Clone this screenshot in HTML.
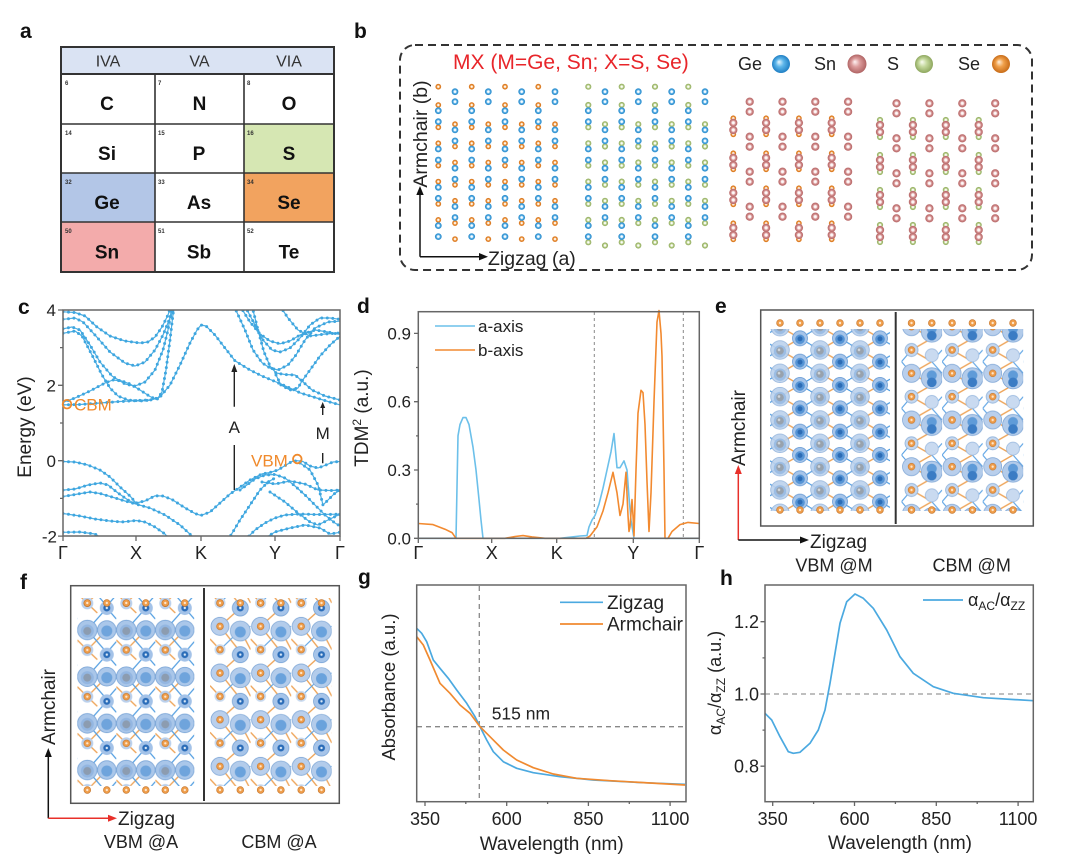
<!DOCTYPE html>
<html><head><meta charset="utf-8"><style>html,body{margin:0;padding:0;background:#fff}svg{display:block}</style></head><body>
<svg width="1075" height="863" viewBox="0 0 1075 863" xmlns="http://www.w3.org/2000/svg" font-family="'Liberation Sans', Arial, sans-serif">
<defs>
<radialGradient id="rGe"><stop offset="0" stop-color="#fff"/><stop offset=".3" stop-color="#eef8fe"/><stop offset=".55" stop-color="#4fa9e2"/><stop offset=".9" stop-color="#2f8dcc"/><stop offset="1" stop-color="#5aaee0"/></radialGradient>
<radialGradient id="rSe"><stop offset="0" stop-color="#fff"/><stop offset=".3" stop-color="#fdf0e0"/><stop offset=".55" stop-color="#ec8f35"/><stop offset=".9" stop-color="#d4761f"/><stop offset="1" stop-color="#eea060"/></radialGradient>
<radialGradient id="rS"><stop offset="0" stop-color="#fff"/><stop offset=".3" stop-color="#f6faee"/><stop offset=".55" stop-color="#b3ca84"/><stop offset=".9" stop-color="#95ae63"/><stop offset="1" stop-color="#b8cc94"/></radialGradient>
<radialGradient id="rSn"><stop offset="0" stop-color="#fff"/><stop offset=".3" stop-color="#fbefef"/><stop offset=".55" stop-color="#d48f8f"/><stop offset=".9" stop-color="#b86a6a"/><stop offset="1" stop-color="#d49a9a"/></radialGradient>
<radialGradient id="lGe" fx=".38" fy=".38"><stop offset="0" stop-color="#eaf8ff"/><stop offset=".45" stop-color="#5db6ea"/><stop offset="1" stop-color="#1f7fc4"/></radialGradient>
<radialGradient id="lSn" fx=".38" fy=".38"><stop offset="0" stop-color="#fff4f4"/><stop offset=".45" stop-color="#dc9c9c"/><stop offset="1" stop-color="#b06464"/></radialGradient>
<radialGradient id="lS" fx=".38" fy=".38"><stop offset="0" stop-color="#fafdf2"/><stop offset=".45" stop-color="#c4d89c"/><stop offset="1" stop-color="#8ea75e"/></radialGradient>
<radialGradient id="lSe" fx=".38" fy=".38"><stop offset="0" stop-color="#fff0dc"/><stop offset=".45" stop-color="#f0a04a"/><stop offset="1" stop-color="#c86c18"/></radialGradient>

<g id="s1A">
<circle cy="86.7" r="2.9" fill="url(#rSe)"/><circle cy="105" r="2.9" fill="url(#rSe)"/><circle cy="127.3" r="2.9" fill="url(#rSe)"/><circle cy="143.3" r="2.9" fill="url(#rSe)"/><circle cy="165.6" r="2.9" fill="url(#rSe)"/><circle cy="181.6" r="2.9" fill="url(#rSe)"/><circle cy="203.9" r="2.9" fill="url(#rSe)"/><circle cy="219.9" r="2.9" fill="url(#rSe)"/>
<circle cy="110.7" r="3.4" fill="url(#rGe)"/><circle cy="121.7" r="3.4" fill="url(#rGe)"/><circle cy="149" r="3.4" fill="url(#rGe)"/><circle cy="160" r="3.4" fill="url(#rGe)"/><circle cy="187.3" r="3.4" fill="url(#rGe)"/><circle cy="198.3" r="3.4" fill="url(#rGe)"/><circle cy="225.6" r="3.4" fill="url(#rGe)"/><circle cy="236.6" r="3.4" fill="url(#rGe)"/>
</g>
<g id="s1B">
<circle cy="124.2" r="2.9" fill="url(#rSe)"/><circle cy="146.5" r="2.9" fill="url(#rSe)"/><circle cy="162.5" r="2.9" fill="url(#rSe)"/><circle cy="184.8" r="2.9" fill="url(#rSe)"/><circle cy="200.8" r="2.9" fill="url(#rSe)"/><circle cy="223.1" r="2.9" fill="url(#rSe)"/><circle cy="239.1" r="2.9" fill="url(#rSe)"/>
<circle cy="91.7" r="3.4" fill="url(#rGe)"/><circle cy="101.7" r="3.4" fill="url(#rGe)"/><circle cy="129.9" r="3.4" fill="url(#rGe)"/><circle cy="140.9" r="3.4" fill="url(#rGe)"/><circle cy="168.2" r="3.4" fill="url(#rGe)"/><circle cy="179.2" r="3.4" fill="url(#rGe)"/><circle cy="206.5" r="3.4" fill="url(#rGe)"/><circle cy="217.5" r="3.4" fill="url(#rGe)"/>
</g>
<g id="s2A">
<circle cy="86.7" r="3.1" fill="url(#rS)"/><circle cy="105" r="3.1" fill="url(#rS)"/><circle cy="127.3" r="3.1" fill="url(#rS)"/><circle cy="143.3" r="3.1" fill="url(#rS)"/><circle cy="165.6" r="3.1" fill="url(#rS)"/><circle cy="181.6" r="3.1" fill="url(#rS)"/><circle cy="203.9" r="3.1" fill="url(#rS)"/><circle cy="219.9" r="3.1" fill="url(#rS)"/><circle cy="242.3" r="3.1" fill="url(#rS)"/>
<circle cy="110.7" r="3.4" fill="url(#rGe)"/><circle cy="121.7" r="3.4" fill="url(#rGe)"/><circle cy="149" r="3.4" fill="url(#rGe)"/><circle cy="160" r="3.4" fill="url(#rGe)"/><circle cy="187.3" r="3.4" fill="url(#rGe)"/><circle cy="198.3" r="3.4" fill="url(#rGe)"/><circle cy="225.6" r="3.4" fill="url(#rGe)"/><circle cy="236.6" r="3.4" fill="url(#rGe)"/>
</g>
<g id="s2B">
<circle cy="124.2" r="3.1" fill="url(#rS)"/><circle cy="146.5" r="3.1" fill="url(#rS)"/><circle cy="162.5" r="3.1" fill="url(#rS)"/><circle cy="184.8" r="3.1" fill="url(#rS)"/><circle cy="200.8" r="3.1" fill="url(#rS)"/><circle cy="223.1" r="3.1" fill="url(#rS)"/><circle cy="245.5" r="3.1" fill="url(#rS)"/>
<circle cy="91.7" r="3.4" fill="url(#rGe)"/><circle cy="101.7" r="3.4" fill="url(#rGe)"/><circle cy="129.9" r="3.4" fill="url(#rGe)"/><circle cy="140.9" r="3.4" fill="url(#rGe)"/><circle cy="168.2" r="3.4" fill="url(#rGe)"/><circle cy="179.2" r="3.4" fill="url(#rGe)"/><circle cy="206.5" r="3.4" fill="url(#rGe)"/><circle cy="217.5" r="3.4" fill="url(#rGe)"/>
</g>
<g id="s3C">
<circle cy="118.3" r="2.9" fill="url(#rSe)"/><circle cy="134.3" r="2.9" fill="url(#rSe)"/><circle cy="153.3" r="2.9" fill="url(#rSe)"/><circle cy="169.3" r="2.9" fill="url(#rSe)"/><circle cy="188.3" r="2.9" fill="url(#rSe)"/><circle cy="204.3" r="2.9" fill="url(#rSe)"/><circle cy="223.3" r="2.9" fill="url(#rSe)"/><circle cy="239.3" r="2.9" fill="url(#rSe)"/>
<circle cy="122.8" r="4.2" fill="url(#rSn)"/><circle cy="130" r="4.2" fill="url(#rSn)"/><circle cy="157.8" r="4.2" fill="url(#rSn)"/><circle cy="165" r="4.2" fill="url(#rSn)"/><circle cy="192.8" r="4.2" fill="url(#rSn)"/><circle cy="200" r="4.2" fill="url(#rSn)"/><circle cy="227.8" r="4.2" fill="url(#rSn)"/><circle cy="235" r="4.2" fill="url(#rSn)"/>
</g>
<g id="s3D">
<circle cy="101.7" r="4.2" fill="url(#rSn)"/><circle cy="111.7" r="4.2" fill="url(#rSn)"/><circle cy="136.7" r="4.2" fill="url(#rSn)"/><circle cy="146.7" r="4.2" fill="url(#rSn)"/><circle cy="171.7" r="4.2" fill="url(#rSn)"/><circle cy="181.7" r="4.2" fill="url(#rSn)"/><circle cy="206.7" r="4.2" fill="url(#rSn)"/><circle cy="216.7" r="4.2" fill="url(#rSn)"/>
</g>
<g id="s4C">
<circle cy="120" r="3.1" fill="url(#rS)"/><circle cy="137" r="3.1" fill="url(#rS)"/><circle cy="155" r="3.1" fill="url(#rS)"/><circle cy="172" r="3.1" fill="url(#rS)"/><circle cy="190" r="3.1" fill="url(#rS)"/><circle cy="207" r="3.1" fill="url(#rS)"/><circle cy="225" r="3.1" fill="url(#rS)"/><circle cy="242" r="3.1" fill="url(#rS)"/>
<circle cy="125" r="4.2" fill="url(#rSn)"/><circle cy="132" r="4.2" fill="url(#rSn)"/><circle cy="160" r="4.2" fill="url(#rSn)"/><circle cy="167" r="4.2" fill="url(#rSn)"/><circle cy="195" r="4.2" fill="url(#rSn)"/><circle cy="202" r="4.2" fill="url(#rSn)"/><circle cy="230" r="4.2" fill="url(#rSn)"/><circle cy="237" r="4.2" fill="url(#rSn)"/>
</g>
<g id="s4D">
<circle cy="103.3" r="4.2" fill="url(#rSn)"/><circle cy="113.3" r="4.2" fill="url(#rSn)"/><circle cy="138.3" r="4.2" fill="url(#rSn)"/><circle cy="148.3" r="4.2" fill="url(#rSn)"/><circle cy="173.3" r="4.2" fill="url(#rSn)"/><circle cy="183.3" r="4.2" fill="url(#rSn)"/><circle cy="208.3" r="4.2" fill="url(#rSn)"/><circle cy="218.3" r="4.2" fill="url(#rSn)"/>
</g>

<g id="oatom"><circle r="3.4" fill="#ef9d4a" stroke="#c4752c" stroke-width=".6"/><circle r="1.2" fill="#fde6cc"/></g>

<pattern id="pEL" patternUnits="userSpaceOnUse" x="770" y="338.33" width="40" height="23.33">
<path d="M10,11.67 L30,0 M10,11.67 L30,23.33" stroke="#eea55a" stroke-width="1.4" fill="none"/>
<path d="M0,5.83 L10,11.67 L0,17.5 M30,0 L40,5.83 M30,23.33 L40,17.5" stroke="#4d9be0" stroke-width="1.2" fill="none"/>
<circle cx="10" cy="11.67" r="9.3" fill="#bcd2ec" stroke="#88acd8" stroke-width=".8" opacity=".9"/><circle cx="10" cy="13" r="6.2" fill="#9cbde4"/><circle cx="10" cy="12.5" r="3.8" fill="#98a2ad"/><circle cx="9" cy="11.5" r="1.3" fill="#d0d6dc"/>
<circle cx="30" cy="0" r="7.5" fill="#a5c4e9" stroke="#6b9dd6" stroke-width=".8"/><circle cx="30" cy="1" r="4.8" fill="#5594d5"/><circle cx="30" cy=".5" r="2.5" fill="#2c6cb5"/>
<circle cx="30" cy="23.33" r="7.5" fill="#a5c4e9" stroke="#6b9dd6" stroke-width=".8"/><circle cx="30" cy="24.33" r="4.8" fill="#5594d5"/><circle cx="30" cy="23.83" r="2.5" fill="#2c6cb5"/>
</pattern>
<pattern id="pER" patternUnits="userSpaceOnUse" x="901.5" y="338.33" width="40.6" height="46.67">
<path d="M10,11.67 L30.3,23.33 L10,35 M10,11.67 L30.3,0 M10,35 L30.3,46.67" stroke="#eea55a" stroke-width="1.4" fill="none"/>
<path d="M0,23.33 L10,11.67 M0,23.33 L10,35 M30.3,23.33 L40.6,11.67 M30.3,23.33 L40.6,35" stroke="#5aa2e4" stroke-width="1.1" fill="none"/>
<circle cx="10" cy="11.67" r="6.5" fill="#c4d7ef" stroke="#8fb2da" stroke-width=".8"/><use href="#oatom" x="10" y="11.67"/>
<circle cx="10" cy="35" r="9" fill="#b9cfec" stroke="#86abd8" stroke-width=".8"/><use href="#oatom" x="10" y="35"/>
<circle cx="30.3" cy="17" r="6.5" fill="#c9daf0" stroke="#9dbbe0" stroke-width=".8"/>
<circle cx="30.3" cy="40" r="10.5" fill="#b2cbea" stroke="#7ea6d6" stroke-width=".8"/><circle cx="30.3" cy="37" r="5" fill="#5f9bd8"/><circle cx="30.3" cy="44" r="4.8" fill="#3b7cc4"/>
<circle cx="30.3" cy="-6.67" r="10.5" fill="#b2cbea" stroke="#7ea6d6" stroke-width=".8"/><circle cx="30.3" cy="-9.67" r="5" fill="#5f9bd8"/><circle cx="30.3" cy="-2.67" r="4.8" fill="#3b7cc4"/>
</pattern>
<pattern id="pFL" patternUnits="userSpaceOnUse" x="77.3" y="606" width="39" height="46.67">
<path d="M10,44 L29.5,24 M0,34 L10,44 M10,-2.67 L20,7" stroke="#eea55a" stroke-width="1.4" fill="none"/>
<path d="M10,24 L29.5,2 M10,24 L29.5,46.67 M29.5,2 L39,13 M29.5,46.67 L39,35.7" stroke="#4d9be0" stroke-width="1.2" fill="none"/>
<circle cx="10" cy="24" r="9.8" fill="#a9c6e9" stroke="#7aa5d7" stroke-width=".8"/><circle cx="10" cy="25" r="6.5" fill="#93b6e1"/><circle cx="10" cy="25" r="4" fill="#8c9cb0"/>
<circle cx="10" cy="44" r="6" fill="#bad0ec"/><use href="#oatom" x="10" y="44"/>
<circle cx="10" cy="-2.67" r="6" fill="#bad0ec"/><use href="#oatom" x="10" y="-2.67"/>
<circle cx="29.5" cy="24" r="9.3" fill="#aac7ea" stroke="#7aa5d7" stroke-width=".8"/><circle cx="29.5" cy="25" r="5.5" fill="#6fa4dc"/>
<circle cx="29.5" cy="2" r="7" fill="#a3c2e8"/><circle cx="29.5" cy="2" r="3.5" fill="#2a6cb8"/><circle cx="29.5" cy="2" r="1.2" fill="#dbe9f7"/>
<circle cx="29.5" cy="48.67" r="7" fill="#a3c2e8"/><circle cx="29.5" cy="48.67" r="3.5" fill="#2a6cb8"/><circle cx="29.5" cy="48.67" r="1.2" fill="#dbe9f7"/>
</pattern>
<pattern id="pFR" patternUnits="userSpaceOnUse" x="210" y="606" width="40.6" height="46.67">
<path d="M10,20.33 L30.3,2 M10,20.33 L30.3,46 M10,43.67 L0,33 M30.3,24 L40.6,43.67" stroke="#eea55a" stroke-width="1.4" fill="none"/>
<path d="M10,43.67 L30.3,24 L40.6,20.33" stroke="#5aa2e4" stroke-width="1.1" fill="none"/>
<circle cx="10" cy="20.33" r="9" fill="#b9cfec" stroke="#82a9d8" stroke-width=".8"/><use href="#oatom" x="10" y="20.33"/>
<circle cx="10" cy="43.67" r="5.5" fill="#c8daf0"/><use href="#oatom" x="10" y="43.67"/>
<circle cx="10" cy="-3" r="5.5" fill="#c8daf0"/><use href="#oatom" x="10" y="-3"/>
<circle cx="30.3" cy="25" r="10" fill="#b3cceb" stroke="#86acd8" stroke-width=".8"/><circle cx="30.3" cy="26" r="5.5" fill="#6aa2dc"/>
<circle cx="30.3" cy="2" r="8" fill="#a6c4e9" stroke="#7aa5d7" stroke-width=".8"/><circle cx="30.3" cy="2" r="3.5" fill="#2a6cb8"/><circle cx="30.3" cy="2" r="1.2" fill="#dbe9f7"/>
<circle cx="30.3" cy="48.67" r="8" fill="#a6c4e9" stroke="#7aa5d7" stroke-width=".8"/><circle cx="30.3" cy="48.67" r="3.5" fill="#2a6cb8"/><circle cx="30.3" cy="48.67" r="1.2" fill="#dbe9f7"/>
</pattern>

<clipPath id="clipC"><rect x="63" y="310" width="277" height="226"/></clipPath>
<g id="bands">
<path d="M63,404.9 L80,404.5 L100,403 L120,401.5 L140,400.4 L152,399.8 L160,397 L170,385 L180,365 L190,343 L197,330 L201,325 L206,326 L215,335 L225,348 L235,360.8 L250,370 L262,376 L275,381.5 L290,388 L300,392.8 L315,397.5 L328,401.5 L340,404.9"/>
<path d="M63,402.3 L75,398 L90,391 L105,383 L113,380 L122,381 L130,384 L140,390 L150,396.5 L157,399.6 L162,392 L166,370 L170,340 L174,306"/>
<path d="M63,311.8 L75,312.5 L85,316 L97,327 L110,336 L125,341 L140,343 L148,342 L155,337 L162,327 L168,315 L171,306"/>
<path d="M63,319.3 L75,318 L83,322 L95,335 L110,352 L125,363 L135,366 L145,362 L155,350 L163,335 L170,318 L175,306"/>
<path d="M63,328.8 L72,327 L80,330 L90,345 L100,362 L112,376 L125,384 L135,386.1 L145,382 L155,370 L163,350 L168,330 L172,306"/>
<path d="M63,333.3 L75,331 L82,336 L92,355 L102,375 L110,388 L118,396 L128,400 L140,401 L152,400"/>
<path d="M240,306 L250,322 L260,334 L270,341 L280,343.8 L290,341 L300,335 L315,330 L328,332 L340,334.4"/>
<path d="M245,306 L255,325 L263,340 L272,350 L280,352 L290,348 L300,338 L310,325 L320,318 L330,318 L340,319.3"/>
<path d="M234,306 L245,330 L253,350 L262,362.7 L270,368 L278,370 L288,365 L296,355 L305,340 L315,328 L328,322 L340,321.2"/>
<path d="M252,306 L258,330 L264,352 L270,366 L276,373 L285,374.5 L295,375 L302,381 L312,390 L325,396 L340,400"/>
<path d="M276,375 L281,385 L290,390 L298,388 L302,381 L310,370 L320,356 L330,345 L340,336.3"/>
<path d="M280,306 L288,318 L298,330 L310,336 L325,334 L340,333"/>
<path d="M63,461.5 L75,462 L88,465 L100,470 L110,477 L120,487 L130,496 L136,503 L145,501 L155,495.8 L163,496 L172,499.5 L185,507.8 L195,513.5 L201,515.4 L210,512 L220,503 L230,494 L240,487.1 L250,480 L262,473.9 L270,472.5 L278,470 L286,465 L292,461.5 L297,460.7 L303,461.5 L310,466 L318,468 L326,465 L333,462 L340,461.5"/>
<path d="M240,490 L255,479 L265,475 L275,474.5 L285,478 L295,486 L305,495 L315,505 L325,515 L335,523 L340,526"/>
<path d="M262,482 L275,484 L290,481 L305,484 L318,490 L330,490.5 L340,490.1"/>
<path d="M270,492 L285,502 L298,513 L310,522 L318,525 L328,520 L340,514.2"/>
<path d="M63,490.1 L75,489 L88,485 L100,483 L108,485 L118,493 L128,500 L136,504.1 L150,508 L165,515 L180,525 L192,536 L196,540"/>
<path d="M63,496.5 L78,494 L90,492 L100,493.5 L112,497 L125,501 L136,504.1"/>
<path d="M63,513.5 L80,516 L95,519 L110,521 L122,522 L136,520.5 L145,522 L155,527 L165,534 L170,540"/>
<path d="M63,532.3 L80,532 L95,534 L105,540"/>
<path d="M228,540 L240,520 L250,505 L260,490 L268,482 L275,478"/>
<path d="M245,540 L255,530 L265,523 L275,518 L285,515 L300,514 L315,514.5 L340,514.2"/>
<path d="M262,540 L275,532 L290,528 L305,525 L320,528 L330,534 L340,532.3"/>
<path d="M300,463 L310,470 L318,485 L323,505 L328,500 L334,494 L340,490.1"/>
</g>
</defs>

<!-- Panel labels -->
<g font-weight="bold" font-size="21" fill="#111">
<text x="20" y="38">a</text><text x="354" y="38">b</text><text x="18" y="314">c</text><text x="357" y="313">d</text>
<text x="715" y="313">e</text><text x="20" y="589">f</text><text x="358" y="584">g</text><text x="720" y="585">h</text>
</g>

<!-- Panel a -->
<rect x="61" y="47" width="273" height="27" fill="#dae3f3"/>
<rect x="244" y="124" width="90" height="49" fill="#d6e7b3"/>
<rect x="61" y="173" width="94" height="49" fill="#b3c6e7"/>
<rect x="244" y="173" width="90" height="49" fill="#f2a35f"/>
<rect x="61" y="222" width="94" height="50" fill="#f3abab"/>
<g stroke="#333" fill="none">
<rect x="61" y="47" width="273" height="225" stroke-width="2"/>
<path d="M61,74 H334" stroke-width="2"/>
<path d="M61,124 H334 M61,173 H334 M61,222 H334 M155,74 V272 M244,74 V272" stroke-width="1.6"/>
</g>
<g font-size="16" fill="#333" text-anchor="middle"><text x="108" y="66.5">IVA</text><text x="199.5" y="66.5">VA</text><text x="289" y="66.5">VIA</text></g>
<g font-size="19" font-weight="bold" fill="#111" text-anchor="middle">
<text x="107" y="110">C</text><text x="199.5" y="110">N</text><text x="289" y="110">O</text>
<text x="107" y="160">Si</text><text x="199" y="160">P</text><text x="289" y="160">S</text>
<text x="107" y="209">Ge</text><text x="199" y="209">As</text><text x="289" y="209">Se</text>
<text x="107" y="258.5">Sn</text><text x="199" y="258.5">Sb</text><text x="289" y="258.5">Te</text>
</g>
<g font-size="6" font-weight="bold" fill="#333">
<text x="65" y="85">6</text><text x="158" y="85">7</text><text x="247" y="85">8</text>
<text x="65" y="135">14</text><text x="158" y="135">15</text><text x="247" y="135">16</text>
<text x="65" y="184">32</text><text x="158" y="184">33</text><text x="247" y="184">34</text>
<text x="65" y="233">50</text><text x="158" y="233">51</text><text x="247" y="233">52</text>
</g>

<!-- Panel b -->
<rect x="400" y="45" width="632" height="225" rx="15" fill="none" stroke="#333" stroke-width="2" stroke-dasharray="8 5"/>
<text x="453" y="69" font-size="21" fill="#e8252a">MX (M=Ge, Sn; X=S, Se)</text>
<g font-size="18" fill="#222">
<text x="738" y="70">Ge</text><text x="814" y="70">Sn</text><text x="887" y="70">S</text><text x="958" y="70">Se</text>
</g>
<circle cx="781" cy="64" r="9" fill="url(#lGe)"/><circle cx="857" cy="64" r="9.5" fill="url(#lSn)"/><circle cx="924" cy="64" r="9" fill="url(#lS)"/><circle cx="1001" cy="64" r="9" fill="url(#lSe)"/>
<use href="#s1A" x="438.3"/><use href="#s1A" x="471.7"/><use href="#s1A" x="505"/><use href="#s1A" x="538.3"/>
<use href="#s1B" x="455"/><use href="#s1B" x="488.3"/><use href="#s1B" x="521.7"/><use href="#s1B" x="555"/>
<use href="#s2A" x="588.3"/><use href="#s2A" x="621.7"/><use href="#s2A" x="655"/><use href="#s2A" x="688.3"/>
<use href="#s2B" x="605"/><use href="#s2B" x="638.3"/><use href="#s2B" x="671.7"/><use href="#s2B" x="705"/>
<use href="#s3C" x="733.3"/><use href="#s3C" x="766.1"/><use href="#s3C" x="798.9"/><use href="#s3C" x="831.7"/>
<use href="#s3D" x="749.7"/><use href="#s3D" x="782.5"/><use href="#s3D" x="815.3"/><use href="#s3D" x="848.1"/>
<use href="#s4C" x="880"/><use href="#s4C" x="912.9"/><use href="#s4C" x="945.8"/><use href="#s4C" x="978.7"/>
<use href="#s4D" x="896.5"/><use href="#s4D" x="929.4"/><use href="#s4D" x="962.3"/><use href="#s4D" x="995.2"/>
<path d="M420,256.7 V194 M420,256.7 H480" stroke="#111" stroke-width="1.5" fill="none"/>
<path d="M420,186 L416.3,195 L423.7,195 Z M488,256.7 L479,253 L479,260.4 Z" fill="#111"/>
<text x="488" y="265" font-size="19.5" fill="#222">Zigzag (a)</text>
<text transform="translate(427,134) rotate(-90)" text-anchor="middle" font-size="19.5" fill="#222">Armchair (b)</text>

<!-- Panel c -->
<g clip-path="url(#clipC)">
<use href="#bands" fill="none" stroke="#4aaee3" stroke-width="1.2" stroke-linejoin="round"/>
<use href="#bands" fill="none" stroke="#3fa6df" stroke-width="3" stroke-dasharray="0 5.5" stroke-linecap="round"/>
</g>
<rect x="63" y="310" width="277" height="226" fill="none" stroke="#666" stroke-width="1.5"/>
<path d="M58,310 H63 M58,385.3 H63 M58,460.7 H63 M58,536.1 H63 M60,347.6 H63 M60,423 H63 M60,498.4 H63 M63,536 V541 M136,536 V541 M201,536 V541 M275,536 V541 M340,536 V541" stroke="#666" stroke-width="1.3"/>
<g font-size="17" fill="#222" text-anchor="end"><text x="56" y="316">4</text><text x="56" y="391.5">2</text><text x="56" y="466.9">0</text><text x="57" y="542.3">-2</text></g>
<g font-size="18" fill="#222" text-anchor="middle"><text x="63" y="559">Γ</text><text x="136" y="559">X</text><text x="201" y="559">K</text><text x="275" y="559">Y</text><text x="340" y="559">Γ</text></g>
<text transform="translate(31,427) rotate(-90)" text-anchor="middle" font-size="19" fill="#222">Energy (eV)</text>
<path d="M234.3,490 V445 M234.3,406.7 V370 M322.7,463.3 V453 M322.7,415 V407" stroke="#222" stroke-width="1.4" fill="none"/>
<path d="M234.3,364 L231.3,372 L237.3,372 Z M322.7,402 L320.2,408 L325.2,408 Z" fill="#222"/>
<text x="234.3" y="433" font-size="17" fill="#222" text-anchor="middle">A</text>
<text x="322.7" y="439" font-size="17" fill="#222" text-anchor="middle">M</text>
<circle cx="67" cy="404.2" r="4.3" fill="none" stroke="#f08a2c" stroke-width="1.8"/>
<text x="74" y="410.5" font-size="17" fill="#f08a2c">CBM</text>
<circle cx="297.3" cy="459" r="4.3" fill="none" stroke="#f08a2c" stroke-width="1.8"/>
<text x="251" y="466.7" font-size="17" fill="#f08a2c">VBM</text>

<!-- Panel d -->
<path d="M594.3,312 V538 M683.3,312 V538" stroke="#888" stroke-width="1" stroke-dasharray="3 3"/>
<path d="M418.3,538.3 L456,538.3 L458,435.8 L460,424.5 L463,417.6 L466,417.6 L469,424.5 L473,447.2 L476,470 L479,499.6 L481,520.1 L483,538.3 L560,538.3 L570,537.2 L580,536 L587,535.6 L589,526.9 L592,520.1 L595,515.5 L599,504.1 L603,488.2 L607,470 L611,451.8 L614,433.6 L617,467.7 L620,467.7 L624,460.9 L627,470 L629,497.3 L631,520.1 L634,538.3 L699.3,538.3" fill="none" stroke="#6cc0ea" stroke-width="1.6" stroke-linejoin="round"/>
<path d="M418.3,523.5 L433,524.6 L445,529.2 L452,532.6 L456,538.3 L505,538.3 L515,536.5 L523,535.6 L532,536.9 L545,538.3 L586,538.3 L590,536 L597,526.9 L603,511 L608,492.8 L613,472.3 L617,492.8 L620,515.5 L623,504.1 L626,472.3 L628,515.5 L629,531.5 L630,526.9 L632,499.6 L633,515.5 L634,536 L636,470 L638,413.1 L641,390.3 L643,392.6 L645,424.5 L647,481.4 L649,531.5 L651,492.8 L654,401.7 L657,322 L659,310.6 L661,333.4 L662,356.1 L664,470 L665,538.3 L668,538.3 L672,531.5 L680,524.6 L688,522.4 L699.3,523.5" fill="none" stroke="#f28a30" stroke-width="1.6" stroke-linejoin="round"/>
<rect x="418.3" y="311.7" width="281" height="226.6" fill="none" stroke="#666" stroke-width="1.5"/>
<path d="M414,538.3 H418.3 M414,470 H418.3 M414,401.7 H418.3 M414,333.4 H418.3 M416,504.1 H418.3 M416,435.9 H418.3 M416,367.5 H418.3 M418.3,538 V543 M491.7,538 V543 M556.7,538 V543 M633.3,538 V543 M699.3,538 V543" stroke="#666" stroke-width="1.3"/>
<g font-size="17" fill="#222" text-anchor="end"><text x="411" y="544.3">0.0</text><text x="411" y="476">0.3</text><text x="411" y="407.7">0.6</text><text x="411" y="339.4">0.9</text></g>
<g font-size="18" fill="#222" text-anchor="middle"><text x="418.3" y="559">Γ</text><text x="491.7" y="559">X</text><text x="556.7" y="559">K</text><text x="633.3" y="559">Y</text><text x="699.3" y="559">Γ</text></g>
<text transform="translate(368,418) rotate(-90)" text-anchor="middle" font-size="19" fill="#222">TDM<tspan font-size="12" dy="-7">2</tspan><tspan dy="7"> (a.u.)</tspan></text>
<path d="M435,326 H475" stroke="#6cc0ea" stroke-width="1.6"/><path d="M435,350 H475" stroke="#f28a30" stroke-width="1.6"/>
<text x="478" y="332" font-size="17" fill="#222">a-axis</text><text x="478" y="356" font-size="17" fill="#222">b-axis</text>

<!-- Panel e -->
<rect x="770" y="329" width="120" height="182" fill="url(#pEL)"/>
<rect x="901.5" y="329" width="121.8" height="182" fill="url(#pER)"/>
<g>
<use href="#oatom" x="780" y="323"/><use href="#oatom" x="800" y="323"/><use href="#oatom" x="820" y="323"/><use href="#oatom" x="840" y="323"/><use href="#oatom" x="860" y="323"/><use href="#oatom" x="880" y="323"/>
<use href="#oatom" x="780" y="510"/><use href="#oatom" x="800" y="510"/><use href="#oatom" x="820" y="510"/><use href="#oatom" x="840" y="510"/><use href="#oatom" x="860" y="510"/><use href="#oatom" x="880" y="510"/>
<use href="#oatom" x="911.5" y="323"/><use href="#oatom" x="931.8" y="323"/><use href="#oatom" x="952.1" y="323"/><use href="#oatom" x="972.4" y="323"/><use href="#oatom" x="992.7" y="323"/><use href="#oatom" x="1013" y="323"/>
<use href="#oatom" x="911.5" y="510"/><use href="#oatom" x="931.8" y="510"/><use href="#oatom" x="952.1" y="510"/><use href="#oatom" x="972.4" y="510"/><use href="#oatom" x="992.7" y="510"/><use href="#oatom" x="1013" y="510"/>
</g>
<rect x="760.7" y="310" width="272.6" height="216" fill="none" stroke="#555" stroke-width="1.5"/>
<path d="M895.7,312 V524" stroke="#333" stroke-width="2"/>
<path d="M738.3,540 V472" stroke="#e8302a" stroke-width="1.5"/><path d="M738.3,465 L734.8,474 L741.8,474 Z" fill="#e8302a"/>
<path d="M738.3,540 H802" stroke="#111" stroke-width="1.5"/><path d="M809,540 L800,536.5 L800,543.5 Z" fill="#111"/>
<text transform="translate(745,428) rotate(-90)" text-anchor="middle" font-size="19" fill="#222">Armchair</text>
<text x="810" y="548" font-size="19" fill="#222">Zigzag</text>
<text x="834" y="571.5" font-size="18" fill="#222" text-anchor="middle">VBM @M</text>
<text x="971.7" y="571.5" font-size="18" fill="#222" text-anchor="middle">CBM @M</text>

<!-- Panel f -->
<rect x="77.3" y="598" width="117" height="188" fill="url(#pFL)"/>
<rect x="210" y="598" width="121.8" height="188" fill="url(#pFR)"/>
<g>
<use href="#oatom" x="87.3" y="603"/><use href="#oatom" x="106.8" y="603"/><use href="#oatom" x="126.3" y="603"/><use href="#oatom" x="145.8" y="603"/><use href="#oatom" x="165.3" y="603"/><use href="#oatom" x="184.8" y="603"/>
<use href="#oatom" x="87.3" y="790"/><use href="#oatom" x="106.8" y="790"/><use href="#oatom" x="126.3" y="790"/><use href="#oatom" x="145.8" y="790"/><use href="#oatom" x="165.3" y="790"/><use href="#oatom" x="184.8" y="790"/>
<use href="#oatom" x="220" y="603"/><use href="#oatom" x="240.3" y="603"/><use href="#oatom" x="260.6" y="603"/><use href="#oatom" x="280.9" y="603"/><use href="#oatom" x="301.2" y="603"/><use href="#oatom" x="321.5" y="603"/>
<use href="#oatom" x="220" y="790"/><use href="#oatom" x="240.3" y="790"/><use href="#oatom" x="260.6" y="790"/><use href="#oatom" x="280.9" y="790"/><use href="#oatom" x="301.2" y="790"/><use href="#oatom" x="321.5" y="790"/>
</g>
<rect x="70.7" y="585.7" width="268.6" height="217.6" fill="none" stroke="#555" stroke-width="1.5"/>
<path d="M204,588 V801" stroke="#333" stroke-width="2"/>
<path d="M48.3,818.3 V755" stroke="#111" stroke-width="1.5"/><path d="M48.3,748 L44.8,757 L51.8,757 Z" fill="#111"/>
<path d="M48.3,818.3 H110" stroke="#e8302a" stroke-width="1.5"/><path d="M117,818.3 L108,814.8 L108,821.8 Z" fill="#e8302a"/>
<text transform="translate(55,707) rotate(-90)" text-anchor="middle" font-size="19" fill="#222">Armchair</text>
<text x="118" y="825" font-size="19" fill="#222">Zigzag</text>
<text x="141" y="848" font-size="18" fill="#222" text-anchor="middle">VBM @A</text>
<text x="279" y="848" font-size="18" fill="#222" text-anchor="middle">CBM @A</text>

<!-- Panel g -->
<path d="M479.3,586 V801 M417,726.7 H686" stroke="#888" stroke-width="1.3" stroke-dasharray="5 4"/>
<path d="M416.7,628.3 L421.7,633.3 L426.7,641.7 L433.3,660 L440,668.3 L448.3,678.3 L456.7,690 L466.7,703.3 L475,716.7 L480,726.7 L486.7,740 L493.3,751.7 L503.3,761.7 L516.7,768.3 L533.3,772.7 L560,776.7 L593.3,780 L643.3,782.7 L685,784.3" fill="none" stroke="#4ba9e0" stroke-width="1.7" stroke-linejoin="round"/>
<path d="M416.7,636.7 L423.3,645 L430,660 L440,683.3 L450,693.3 L460,705 L470,713.3 L480,726.7 L490,736.7 L503.3,750 L516.7,760 L533.3,767.7 L553.3,774 L576.7,778.3 L610,780.7 L685,785" fill="none" stroke="#f08a30" stroke-width="1.7" stroke-linejoin="round"/>
<rect x="416.7" y="585" width="269.3" height="216.7" fill="none" stroke="#666" stroke-width="1.5"/>
<path d="M425,801.7 V806 M506.7,801.7 V806 M588.4,801.7 V806 M670.1,801.7 V806 M465.8,801.7 V804 M547.6,801.7 V804 M629.3,801.7 V804" stroke="#666" stroke-width="1.3"/>
<g font-size="18" fill="#222" text-anchor="middle"><text x="425" y="825">350</text><text x="506.7" y="825">600</text><text x="588.4" y="825">850</text><text x="670.1" y="825">1100</text></g>
<text x="551.7" y="850" font-size="19" fill="#222" text-anchor="middle">Wavelength (nm)</text>
<text transform="translate(395,687) rotate(-90)" text-anchor="middle" font-size="18.5" fill="#222">Absorbance (a.u.)</text>
<text x="491.7" y="719.5" font-size="17.5" fill="#222">515 nm</text>
<path d="M560,602.3 H603" stroke="#4ba9e0" stroke-width="1.7"/><path d="M560,624 H603" stroke="#f08a30" stroke-width="1.7"/>
<text x="607" y="609" font-size="19" fill="#222">Zigzag</text><text x="607" y="630.5" font-size="19" fill="#222">Armchair</text>

<!-- Panel h -->
<path d="M765,694 H1033" stroke="#999" stroke-width="1.3" stroke-dasharray="5 4"/>
<path d="M765,713.3 L771.7,720 L780,736.7 L788.3,751.7 L793.3,753.3 L800,752.3 L810,743.3 L818.3,730 L825,710 L830,683.3 L835,653.3 L840,623.3 L846.7,601.7 L855,594 L863.3,598.3 L873.3,608.3 L886.7,630 L900,656.7 L913.3,673.3 L933.3,686.7 L953.3,693.3 L983.3,697.7 L1033.3,700.7" fill="none" stroke="#4ba9e0" stroke-width="1.7" stroke-linejoin="round"/>
<rect x="765" y="585" width="268.3" height="216.7" fill="none" stroke="#666" stroke-width="1.5"/>
<path d="M760.5,621.7 H765 M760.5,694 H765 M760.5,766.2 H765 M762.5,657.9 H765 M762.5,730.1 H765 M772.7,801.7 V806 M854.5,801.7 V806 M936.3,801.7 V806 M1018.1,801.7 V806 M813.6,801.7 V804 M895.4,801.7 V804 M977.2,801.7 V804" stroke="#666" stroke-width="1.3"/>
<g font-size="18" fill="#222" text-anchor="end"><text x="759" y="628">1.2</text><text x="759" y="700.3">1.0</text><text x="759" y="772.5">0.8</text></g>
<g font-size="18" fill="#222" text-anchor="middle"><text x="772.7" y="825">350</text><text x="854.5" y="825">600</text><text x="936.3" y="825">850</text><text x="1018.1" y="825">1100</text></g>
<text x="900" y="849" font-size="19" fill="#222" text-anchor="middle">Wavelength (nm)</text>
<text transform="translate(721,683) rotate(-90)" text-anchor="middle" font-size="18" fill="#222">α<tspan font-size="12" dy="4">AC</tspan><tspan dy="-4">/α</tspan><tspan font-size="12" dy="4">ZZ</tspan><tspan dy="-4"> (a.u.)</tspan></text>
<path d="M923,600 H963" stroke="#4ba9e0" stroke-width="1.7"/>
<text x="968" y="606" font-size="18" fill="#222">α<tspan font-size="12" dy="4">AC</tspan><tspan dy="-4">/α</tspan><tspan font-size="12" dy="4">ZZ</tspan></text>
</svg>
</body></html>
